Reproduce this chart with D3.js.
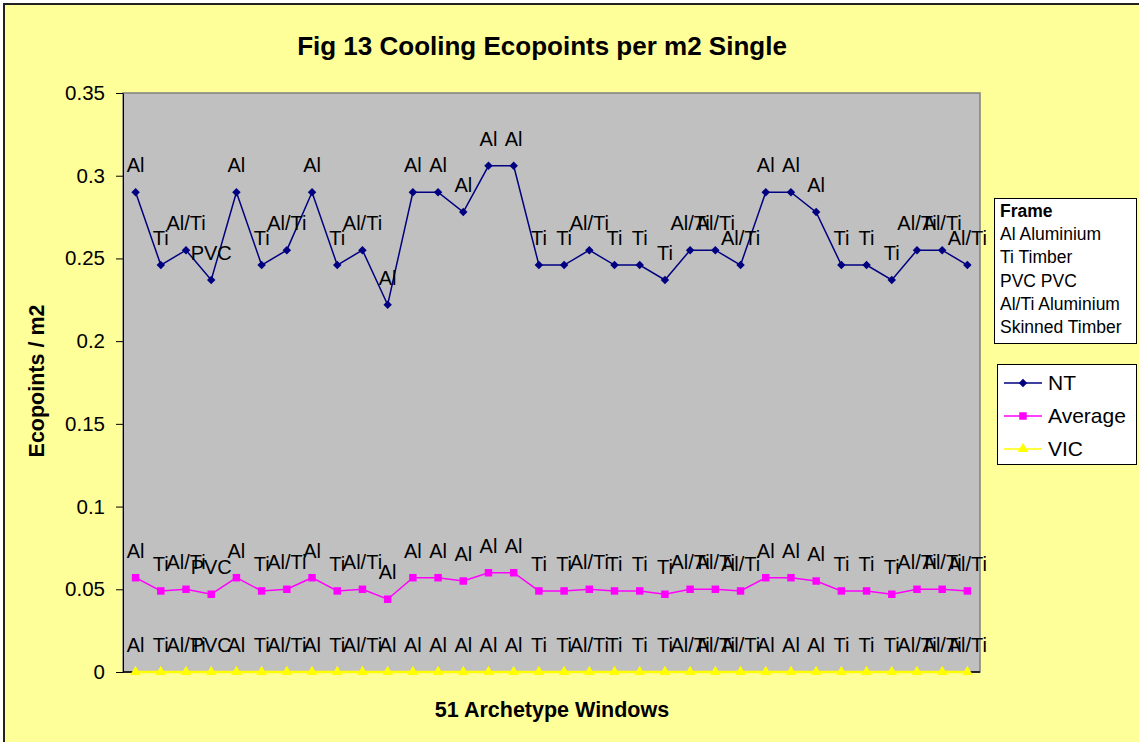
<!DOCTYPE html>
<html><head><meta charset="utf-8">
<script src="https://cdn.jsdelivr.net/npm/d3@7"></script>
<style>html,body{margin:0;padding:0;background:#fff;}svg{display:block;font-family:"Liberation Sans",Arial,sans-serif;}</style>
</head><body>
<svg id="c" width="1139" height="742"></svg>
<script>
const frames = ["Al","Ti","Al/Ti","PVC","Al","Ti","Al/Ti","Al","Ti","Al/Ti","Al","Al","Al","Al","Al","Al","Ti","Ti","Al/Ti","Ti","Ti","Ti","Al/Ti","Al/Ti","Al/Ti","Al","Al","Al","Ti","Ti","Ti","Al/Ti","Al/Ti","Al/Ti"];
const ntValues = [0.290,0.246,0.255,0.237,0.290,0.246,0.255,0.290,0.246,0.255,0.222,0.290,0.290,0.278,0.306,0.306,0.246,0.246,0.255,0.246,0.246,0.237,0.255,0.255,0.246,0.290,0.290,0.278,0.246,0.246,0.237,0.255,0.255,0.246];
const avgValues = [0.057,0.049,0.050,0.047,0.057,0.049,0.050,0.057,0.049,0.050,0.044,0.057,0.057,0.055,0.060,0.060,0.049,0.049,0.050,0.049,0.049,0.047,0.050,0.050,0.049,0.057,0.057,0.055,0.049,0.049,0.047,0.050,0.050,0.049];
const vicValues = [0,0,0,0,0,0,0,0,0,0,0,0,0,0,0,0,0,0,0,0,0,0,0,0,0,0,0,0,0,0,0,0,0,0];
const yTicks = [0,0.05,0.1,0.15,0.2,0.25,0.3,0.35];
const frameLegend = ["Al Aluminium","Ti Timber","PVC PVC","Al/Ti Aluminium","Skinned Timber"];
const seriesNames = ["NT","Average","VIC"];

const series = [
  {name: seriesNames[0], values: ntValues, color: "#000080", symbol: d3.symbolSquare, size: 36, rot: 45},
  {name: seriesNames[1], values: avgValues, color: "#FF00FF", symbol: d3.symbolSquare, size: 56, rot: 0},
  {name: seriesNames[2], values: vicValues, color: "#FFFF00", symbol: d3.symbolTriangle, size: 50, rot: 0}
];

const svg = d3.select("#c");
svg.append("rect").attr("x",4).attr("y",4).attr("width",1140).attr("height",745)
  .attr("fill","#FFFF99").attr("stroke","#222").attr("stroke-width",2);

const L = 123, R = 980, T = 93, B = 672;
const x = d3.scaleBand().domain(d3.range(frames.length)).range([L, R]);
const y = d3.scaleLinear().domain([0, 0.35]).range([B, T]);
const cx = i => x(i) + x.bandwidth()/2;

svg.append("rect").attr("x",L).attr("y",T).attr("width",R-L).attr("height",B-T)
  .attr("fill","#C0C0C0").attr("stroke","#808080").attr("stroke-width",1.5);

// y axis
const yAxis = svg.append("g").attr("transform",`translate(${L},0)`)
  .call(d3.axisLeft(y).tickValues(yTicks).tickSize(7).tickSizeOuter(0).tickPadding(11)
    .tickFormat(d => d === 0 ? "0" : String(d)));
yAxis.selectAll("text").attr("font-size",20.5).attr("fill","#000").attr("font-family","Liberation Sans, Arial, sans-serif");
yAxis.selectAll("line,path").attr("stroke","#000");

// x axis line
svg.append("line").attr("x1",L).attr("x2",R).attr("y1",B).attr("y2",B).attr("stroke","#000").attr("stroke-width",1.5);

// series
series.slice().reverse().forEach(s => {
  const line = d3.line().x((d,i)=>cx(i)).y(d=>y(d));
  svg.append("path").datum(s.values).attr("d",line).attr("fill","none")
    .attr("stroke",s.color).attr("stroke-width", s.name==="VIC" ? 2.5 : 1.5);
  svg.append("g").selectAll("path").data(s.values).join("path")
    .attr("transform",(d,i)=>`translate(${cx(i)},${y(d)}) rotate(${s.rot})`)
    .attr("d", d3.symbol().type(s.symbol).size(s.size)).attr("fill",s.color);
});
series.forEach(s => {
  svg.append("g").selectAll("text").data(s.values).join("text")
    .attr("x",(d,i)=>cx(i)).attr("y",d=>y(d)-20)
    .attr("text-anchor","middle").attr("font-size",20).attr("fill","#000")
    .text((d,i)=>frames[i]);
});

// titles
svg.append("text").attr("x",542).attr("y",55).attr("text-anchor","middle")
  .attr("font-size",26).attr("font-weight","bold").text("Fig 13 Cooling Ecopoints per m2 Single");
svg.append("text").attr("x",552).attr("y",717).attr("text-anchor","middle")
  .attr("font-size",21.5).attr("font-weight","bold").text("51 Archetype Windows");
svg.append("text").attr("transform","translate(44,381) rotate(-90)").attr("text-anchor","middle")
  .attr("font-size",21.5).attr("font-weight","bold").text("Ecopoints / m2");

// frame legend
svg.append("rect").attr("x",994.5).attr("y",198.5).attr("width",142).attr("height",145)
  .attr("fill","#fff").attr("stroke","#000").attr("stroke-width",1);
svg.append("text").attr("x",1000).attr("y",217).attr("font-size",17.5).attr("font-weight","bold").text("Frame");
svg.append("g").selectAll("text").data(frameLegend).join("text")
  .attr("x",1000).attr("y",(d,i)=>240 + i*23.3).attr("font-size",17.5).text(d=>d);

// series legend
svg.append("rect").attr("x",997.5).attr("y",364.5).attr("width",139).attr("height",100)
  .attr("fill","#fff").attr("stroke","#000").attr("stroke-width",1);
const lg = svg.append("g").selectAll("g").data(series).join("g")
  .attr("transform",(d,i)=>`translate(0,${383 + i*33})`);
lg.append("line").attr("x1",1004).attr("x2",1042).attr("y1",0).attr("y2",0)
  .attr("stroke",d=>d.color).attr("stroke-width",1.5);
lg.append("path").attr("transform",d=>`translate(1023,0) rotate(${d.rot})`)
  .attr("d",d=>d3.symbol().type(d.symbol).size(d.size)()).attr("fill",d=>d.color);
lg.append("text").attr("x",1048).attr("y",0).attr("dy","0.35em").attr("font-size",21).text(d=>d.name);
</script>
</body></html>
